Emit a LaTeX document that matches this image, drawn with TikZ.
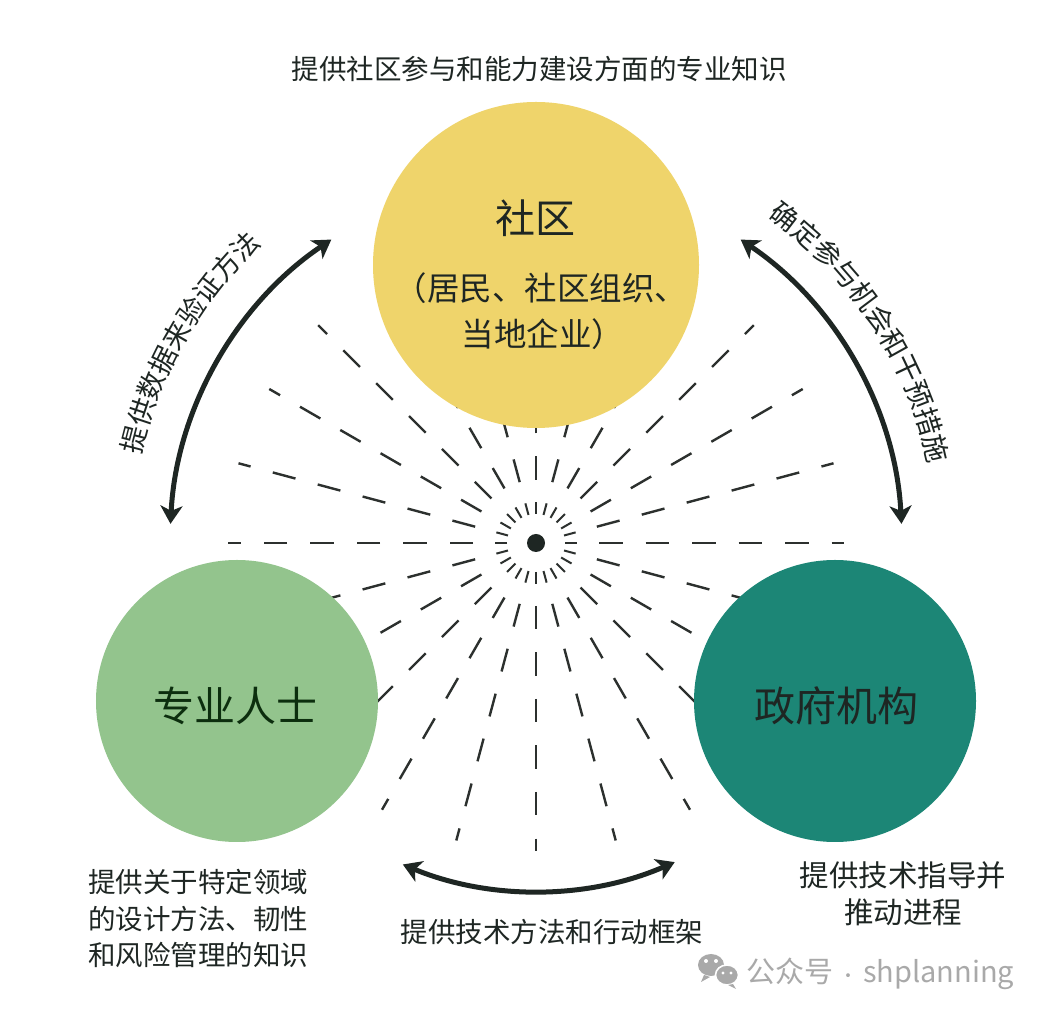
\documentclass[tikz,border=0pt]{standalone}
\usepackage{fontspec}
\setmainfont{Noto Sans CJK SC}
\usetikzlibrary{arrows.meta,decorations.text}
\definecolor{ink}{HTML}{1E2623}
\definecolor{raycol}{HTML}{2C302E}
\definecolor{yelc}{HTML}{EFD46B}
\definecolor{grnc}{HTML}{93C48D}
\definecolor{tealc}{HTML}{1C8676}
\definecolor{wmc}{HTML}{A9A9A9}
\begin{document}
\begin{tikzpicture}[x=1bp,y=1bp,
  ray/.style={draw=raycol, line width=2.4bp, dash pattern=on 23.5bp off 23bp},
  tickmark/.style={draw=raycol, line width=2bp},
  hub/.style={circle, fill=ink, minimum size=18bp, inner sep=0pt},
  actor/.style={circle, inner sep=0pt, draw=none},
  link/.style={draw=ink, line width=5bp,
    {Stealth[length=18bp,width=22bp,inset=5bp]}-{Stealth[length=18bp,width=22bp,inset=5bp]}},
  lbl/.style={font=\fontsize{27.5bp}{36.5bp}\selectfont, text=ink, inner sep=0pt},
  big/.style={font=\fontsize{41bp}{41bp}\selectfont, text=ink, inner sep=0pt},
  sub/.style={font=\fontsize{32.5bp}{32.5bp}\selectfont, text=ink, inner sep=0pt},
  wm/.style={font=\fontsize{29bp}{29bp}\selectfont, text=wmc, inner sep=0pt}
]
\useasboundingbox (0,0) rectangle (1050,1015);
\fill[white] (0,0) rectangle (1050,1015);

\coordinate (C) at (536,472);

% radiating dashed rays
\foreach \a in {0,15,...,345}
  \draw[ray] (C) ++(\a:63) -- ++(\a:245);
% inner ring of ticks
\foreach \a in {0,15,...,345}
  \draw[tickmark] (C) ++(\a:29) -- ++(\a:12);
\node[hub] (center) at (C) {};

% actors
\node[actor, fill=yelc, minimum size=326bp] (comm) at (536,750) {};
\node[actor, fill=grnc, minimum size=282bp] (prof) at (237,314) {};
\node[actor, fill=tealc, minimum size=282bp] (gov) at (835,314) {};

\node[big, font=\fontsize{40bp}{40bp}\selectfont] (commname) at (535,797) {社区};
\node[sub] (commsub1) at (541,727) {（居民、社区组织、};
\node[sub] (commsub2) at (543,681) {当地企业）};
\node[big, text=black!80!green!60!ink] (profname) at (235,309) {专业人士};
\node[big] (govname) at (836,309) {政府机构};

% links
\draw[link] (C) ++(124:366) arc[start angle=124, end angle=177, radius=366];
\draw[link] (C) ++(56:366) arc[start angle=56, end angle=3, radius=366];
\draw[link] (C) ++(247.5:348) arc[start angle=247.5, end angle=293.5, radius=348];

% link labels along arcs
\path[decorate, decoration={text along path, text align=center,
  text={|\fontsize{27.5bp}{27.5bp}\selectfont\color{ink}|提供数据来验证方法}}]
  (C) ++(190:405) arc[start angle=190, end angle=110, radius=405];
\path[decorate, decoration={text along path, text align=center,
  text={|\fontsize{27.5bp}{27.5bp}\selectfont\color{ink}|确定参与机会和干预措施}}]
  (C) ++(73:400) arc[start angle=73, end angle=-7, radius=400];

% other labels
\node[lbl] (top) at (539,946) {提供社区参与和能力建设方面的专业知识};
\node[lbl] (bottom) at (552,83) {提供技术方法和行动框架};
\node[lbl, anchor=west, align=left] (proflbl) at (88,96.5)
  {提供关于特定领域\\的设计方法、韧性\\和风险管理的知识};
\node[lbl, font=\fontsize{29.5bp}{37bp}\selectfont, align=center] (govlbl) at (903,121.5) {提供技术指导并\\推动进程};

% watermark
\begin{scope}[wmc]
  \fill (711,50) ellipse (13 and 11);
  \fill (704,40) -- (701,33) -- (710,38) -- cycle;
  \filldraw[draw=white, line width=1.6bp] (727,40) ellipse (11.5 and 10);
  \fill (733,31) -- (736,26) -- (728,30) -- cycle;
  \fill[white] (706,54) circle (2) (716,54) circle (2)
               (723,42) circle (1.7) (731,42) circle (1.7);
\end{scope}
\node[wm, anchor=base west] (wmtext) at (746,32)
  {公众号\hspace{6bp}{\fontsize{18bp}{18bp}\selectfont·}\hspace{6bp}shplanning};
\end{tikzpicture}
\end{document}
